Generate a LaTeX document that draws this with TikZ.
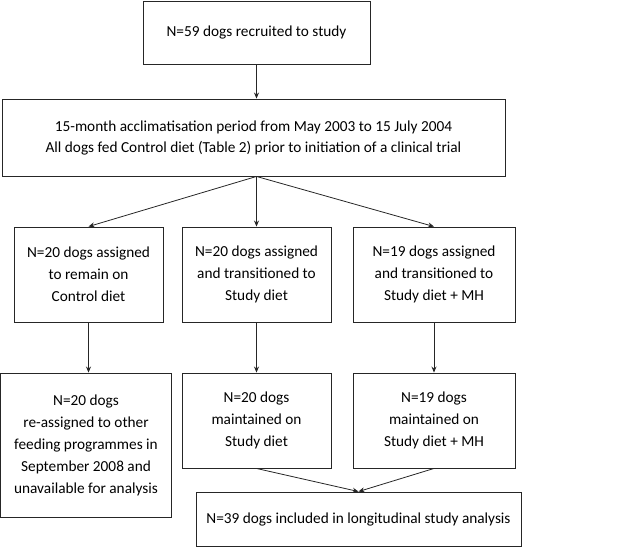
\documentclass[tikz,border=0pt]{standalone}
\usepackage{fontspec}
\setmainfont{Carlito}
\usetikzlibrary{arrows.meta}

\tikzset{
  flowbox/.style={draw=black!85, line width=0.9pt, align=center, inner sep=2pt,
    font=\fontsize{15.3}{22}\selectfont},
  flowarrow/.style={draw=black!85, line width=0.8pt, -{Stealth[length=6pt,width=5pt]}}
}

\begin{document}
\begin{tikzpicture}[x=1pt,y=-1pt]
  \useasboundingbox (0,0) rectangle (625,547);
  \node[flowbox, minimum width=227pt, minimum height=63pt] (recruit) at (256.5,32.5) {N=59 dogs recruited to study};
  \node[flowbox, minimum width=503pt, minimum height=77pt, font=\fontsize{15.3}{21}\selectfont] (acclim) at (253.5,137.5)
    {15-month acclimatisation period from May 2003 to 15 July 2004\\All dogs fed Control diet (Table 2) prior to initiation of a clinical trial};
  \node[flowbox, minimum width=149pt, minimum height=95pt] (control) at (88.5,274.5) {N=20 dogs assigned\\to remain on\\Control diet};
  \node[flowbox, minimum width=149pt, minimum height=95pt] (study) at (256.5,274.5) {N=20 dogs assigned\\and transitioned to\\Study diet};
  \node[flowbox, minimum width=162pt, minimum height=95pt] (studymh) at (434,274.5) {N=19 dogs assigned\\and transitioned to\\Study diet + MH};
  \node[flowbox, minimum width=171pt, minimum height=144pt] (reassign) at (86,445)
    {N=20 dogs\\re-assigned to other\\feeding programmes in\\September 2008 and\\unavailable for analysis};
  \node[flowbox, minimum width=149pt, minimum height=95pt] (keepstudy) at (256.5,420.5) {N=20 dogs\\maintained on\\Study diet};
  \node[flowbox, minimum width=162pt, minimum height=95pt] (keepmh) at (434,420.5) {N=19 dogs\\maintained on\\Study diet + MH};
  \node[flowbox, minimum width=325pt, minimum height=54pt] (final) at (358.5,519) {N=39 dogs included in longitudinal study analysis};
  \coordinate (split) at (recruit.south |- acclim.south);

  \draw[flowarrow] (recruit.south) -- (recruit.south |- acclim.north);
  \draw[flowarrow] (split) -- (control.north);
  \draw[flowarrow] (split) -- (study.north);
  \draw[flowarrow] (split) -- (studymh.north);
  \draw[flowarrow] (control.south) -- (control.south |- reassign.north);
  \draw[flowarrow] (study) -- (keepstudy);
  \draw[flowarrow] (studymh) -- (keepmh);
  \draw[flowarrow] (keepstudy.south) -- (final.north);
  \draw[flowarrow] (keepmh.south) -- (final.north);
\end{tikzpicture}
\end{document}
